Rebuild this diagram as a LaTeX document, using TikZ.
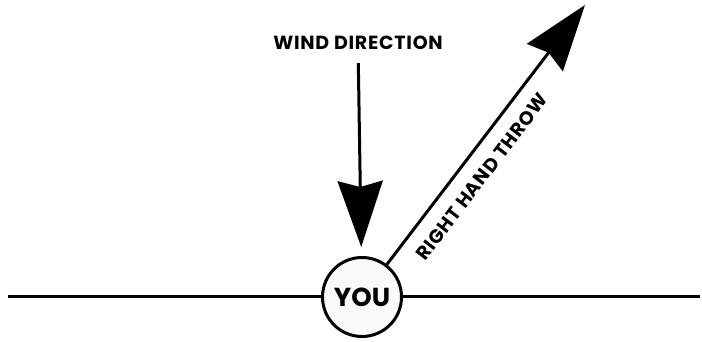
\documentclass[tikz,border=0pt]{standalone}
\usepackage{fontspec}
\setmainfont{Poppins}
\usetikzlibrary{arrows.meta,positioning}

\begin{document}
\begin{tikzpicture}[
    x=1pt, y=1pt,
    every node/.style={font=\bfseries\fontsize{19}{21}\selectfont\addfontfeatures{LetterSpace=4}},
    you/.style={
        circle,
        draw,
        line width=3pt,
        fill=white!98!black,
        minimum size=79pt,
        inner sep=0pt,
        font=\bfseries\fontsize{26}{28}\selectfont
    },
    lbl/.style={inner sep=0pt},
    ground/.style={line width=3pt},
    arrow/.style={-{Stealth[length=66pt, width=45pt, inset=6pt]}, line width=3pt}
]
\useasboundingbox (0,0) rectangle (702,342);

\node[you] (you) at (362,45) {YOU};
\node[lbl] (wind) at (358,299) {WIND DIRECTION};

\coordinate (left) at (8,45);
\coordinate (right) at (700,45);
\coordinate (tip) at (585,337);

\draw[ground] (left) -- (you);
\draw[ground] (you) -- (right);

\draw[arrow, shorten <=13pt, shorten >=9pt] (wind) -- (you);
\draw[arrow] (you) -- node[lbl, sloped, below=14pt, pos=0.39] (throw) {RIGHT HAND THROW} (tip);

\end{tikzpicture}
\end{document}
